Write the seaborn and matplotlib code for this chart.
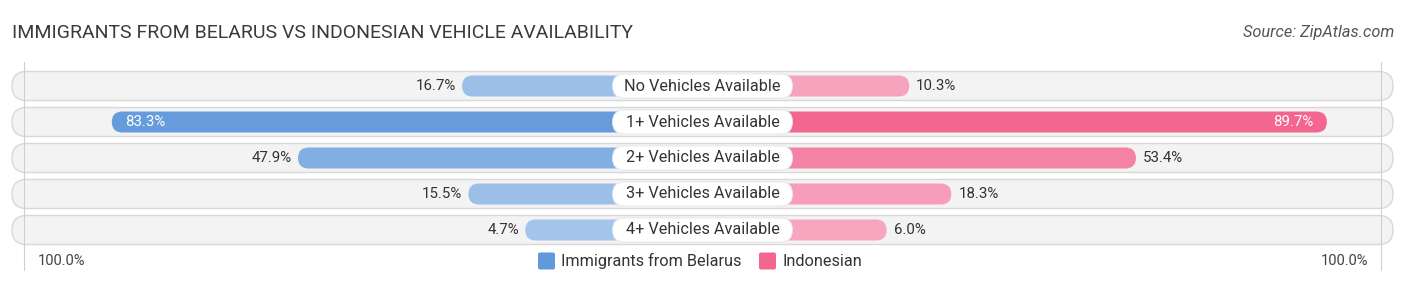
import numpy as np
import pandas as pd
import matplotlib
matplotlib.use("Agg")
import matplotlib.pyplot as plt
from matplotlib.patches import FancyBboxPatch, Rectangle
from matplotlib.colors import to_rgb
import seaborn as sns

# ---- data ----
categories = ["No Vehicles Available", "1+ Vehicles Available", "2+ Vehicles Available",
              "3+ Vehicles Available", "4+ Vehicles Available"]
belarus = [16.7, 83.3, 47.9, 15.5, 4.7]
indonesian = [10.3, 89.7, 53.4, 18.3, 6.0]
series_names = ["Immigrants from Belarus", "Indonesian"]
title = "IMMIGRANTS FROM BELARUS VS INDONESIAN VEHICLE AVAILABILITY"
source = "Source: ZipAtlas.com"
axis_label = "100.0%"

# ---- style ----
sns.set_theme(style="white")
plt.rcParams["font.family"] = ["Roboto", "DejaVu Sans"]

W, H = 1406, 286
PXU = 5.26            # pixels per percent unit
CX = 702.5            # center pixel
ROW0, ROWSTEP = 86, 36
OFF = 29.0            # offset of bar base from center (percent units)

blue_dark, blue_light = "#6199db", "#a5c5ea"
pink_dark, pink_light = "#f2668f", "#f7a8c1"

def shade(light, dark, v):
    t = min(max((v - 4) / (90 - 4), 0), 1)
    a, b = np.array(to_rgb(light)), np.array(to_rgb(dark))
    return tuple(a + (b - a) * t)

fig = plt.figure(figsize=(W / 100, H / 100), dpi=100)
ax = fig.add_axes([0, 0, 1, 1])

df = pd.DataFrame({
    "category": categories * 2,
    "value": [-v for v in belarus] + indonesian,
    "group": [series_names[0]] * len(categories) + [series_names[1]] * len(categories),
})
sns.barplot(data=df, x="value", y="category", hue="group", orient="h",
            dodge=False, errorbar=None, ax=ax, legend=False, width=0.58)

# axis limits in (percent, row) units
ax.set_xlim((0 - CX) / PXU, (W - CX) / PXU)
ax.set_ylim((H - ROW0) / ROWSTEP, (0 - ROW0) / ROWSTEP)
ax.axis("off")

asp = PXU / ROWSTEP  # row units per percent unit -> for round corners

# backgrounds
bg_half = (1393 - CX) / PXU
bg_h = 29 / ROWSTEP
for i in range(len(categories)):
    ax.add_patch(FancyBboxPatch((-bg_half, i - bg_h / 2), 2 * bg_half, bg_h,
                                boxstyle=f"round,pad=0,rounding_size={bg_h / 2 / asp}",
                                mutation_aspect=asp, facecolor="#f3f3f3",
                                edgecolor="#d8d8d8", linewidth=1.0, zorder=1))

# 100% reference lines
for s in (-1, 1):
    ax.plot([s * (OFF + 100)] * 2, [(62 - ROW0) / ROWSTEP, (270 - ROW0) / ROWSTEP],
            color="#d0d0d0", lw=0.8, zorder=1.5)

# convert seaborn rectangles to rounded bars (starting at the center, behind the label)
rects = [p for p in ax.patches if isinstance(p, Rectangle)]
for r in rects:
    v = r.get_width()
    y0, h = r.get_y(), r.get_height()
    r.remove()
    if v == 0:
        continue
    yc = y0 + h / 2
    bh = 21 / ROWSTEP
    if v < 0:
        col = shade(blue_light, blue_dark, -v)
        x0 = -OFF + v
    else:
        col = shade(pink_light, pink_dark, v)
        x0 = 0
    ax.add_patch(FancyBboxPatch((x0, yc - bh / 2), abs(v) + OFF, bh,
                                boxstyle=f"round,pad=0,rounding_size={bh / 2 / asp}",
                                mutation_aspect=asp, facecolor=col, edgecolor="none",
                                zorder=2))

# value labels
fs_val = 10.8
for i, (b, n) in enumerate(zip(belarus, indonesian)):
    if b > 70:
        ax.text(-OFF - b + 13 / PXU, i, f"{b:.1f}%", ha="left", va="center",
                color="white", fontsize=fs_val, zorder=4)
    else:
        ax.text(-OFF - b - 6 / PXU, i, f"{b:.1f}%", ha="right", va="center",
                color="#333333", fontsize=fs_val, zorder=4)
    if n > 70:
        ax.text(OFF + n - 13 / PXU, i, f"{n:.1f}%", ha="right", va="center",
                color="white", fontsize=fs_val, zorder=4)
    else:
        ax.text(OFF + n + 7 / PXU, i, f"{n:.1f}%", ha="left", va="center",
                color="#333333", fontsize=fs_val, zorder=4)

# category labels
lw_half = 90 / PXU
lh = 24 / ROWSTEP
for i, c in enumerate(categories):
    ax.add_patch(FancyBboxPatch((-lw_half, i - lh / 2), 2 * lw_half, lh,
                                boxstyle=f"round,pad=0,rounding_size={lh / 2 / asp}",
                                mutation_aspect=asp, facecolor="white",
                                edgecolor="#e6e6e6", linewidth=0.6, zorder=3))
    ax.text(0, i, c, ha="center", va="center", fontsize=11.7, color="#333333", zorder=4)

# title & source
fig.text(12 / W, 1 - 33 / H, title, ha="left", va="center", fontsize=14,
         color="#3a3a3a")
fig.text(1394 / W, 1 - 33 / H, source, ha="right", va="center", fontsize=11.8,
         color="#555555", style="italic")

# bottom axis labels
yb = (261 - ROW0) / ROWSTEP
ax.text((38 - CX) / PXU, yb, axis_label, ha="left", va="center", fontsize=10.5, color="#444444")
ax.text((1368 - CX) / PXU, yb, axis_label, ha="right", va="center", fontsize=10.5, color="#444444")

# legend
sq = 17
for (xp, col, name) in [(538, blue_dark, series_names[0]), (759, pink_dark, series_names[1])]:
    ax.add_patch(FancyBboxPatch(((xp - CX) / PXU, yb - sq / 2 / ROWSTEP), sq / PXU, sq / ROWSTEP,
                                boxstyle=f"round,pad=0,rounding_size={2 / PXU}",
                                mutation_aspect=asp, facecolor=col, edgecolor="none"))
    ax.text((xp + sq + 6 - CX) / PXU, yb, name, ha="left", va="center",
            fontsize=11.7, color="#333333")

fig.savefig("out.png", dpi=100)
